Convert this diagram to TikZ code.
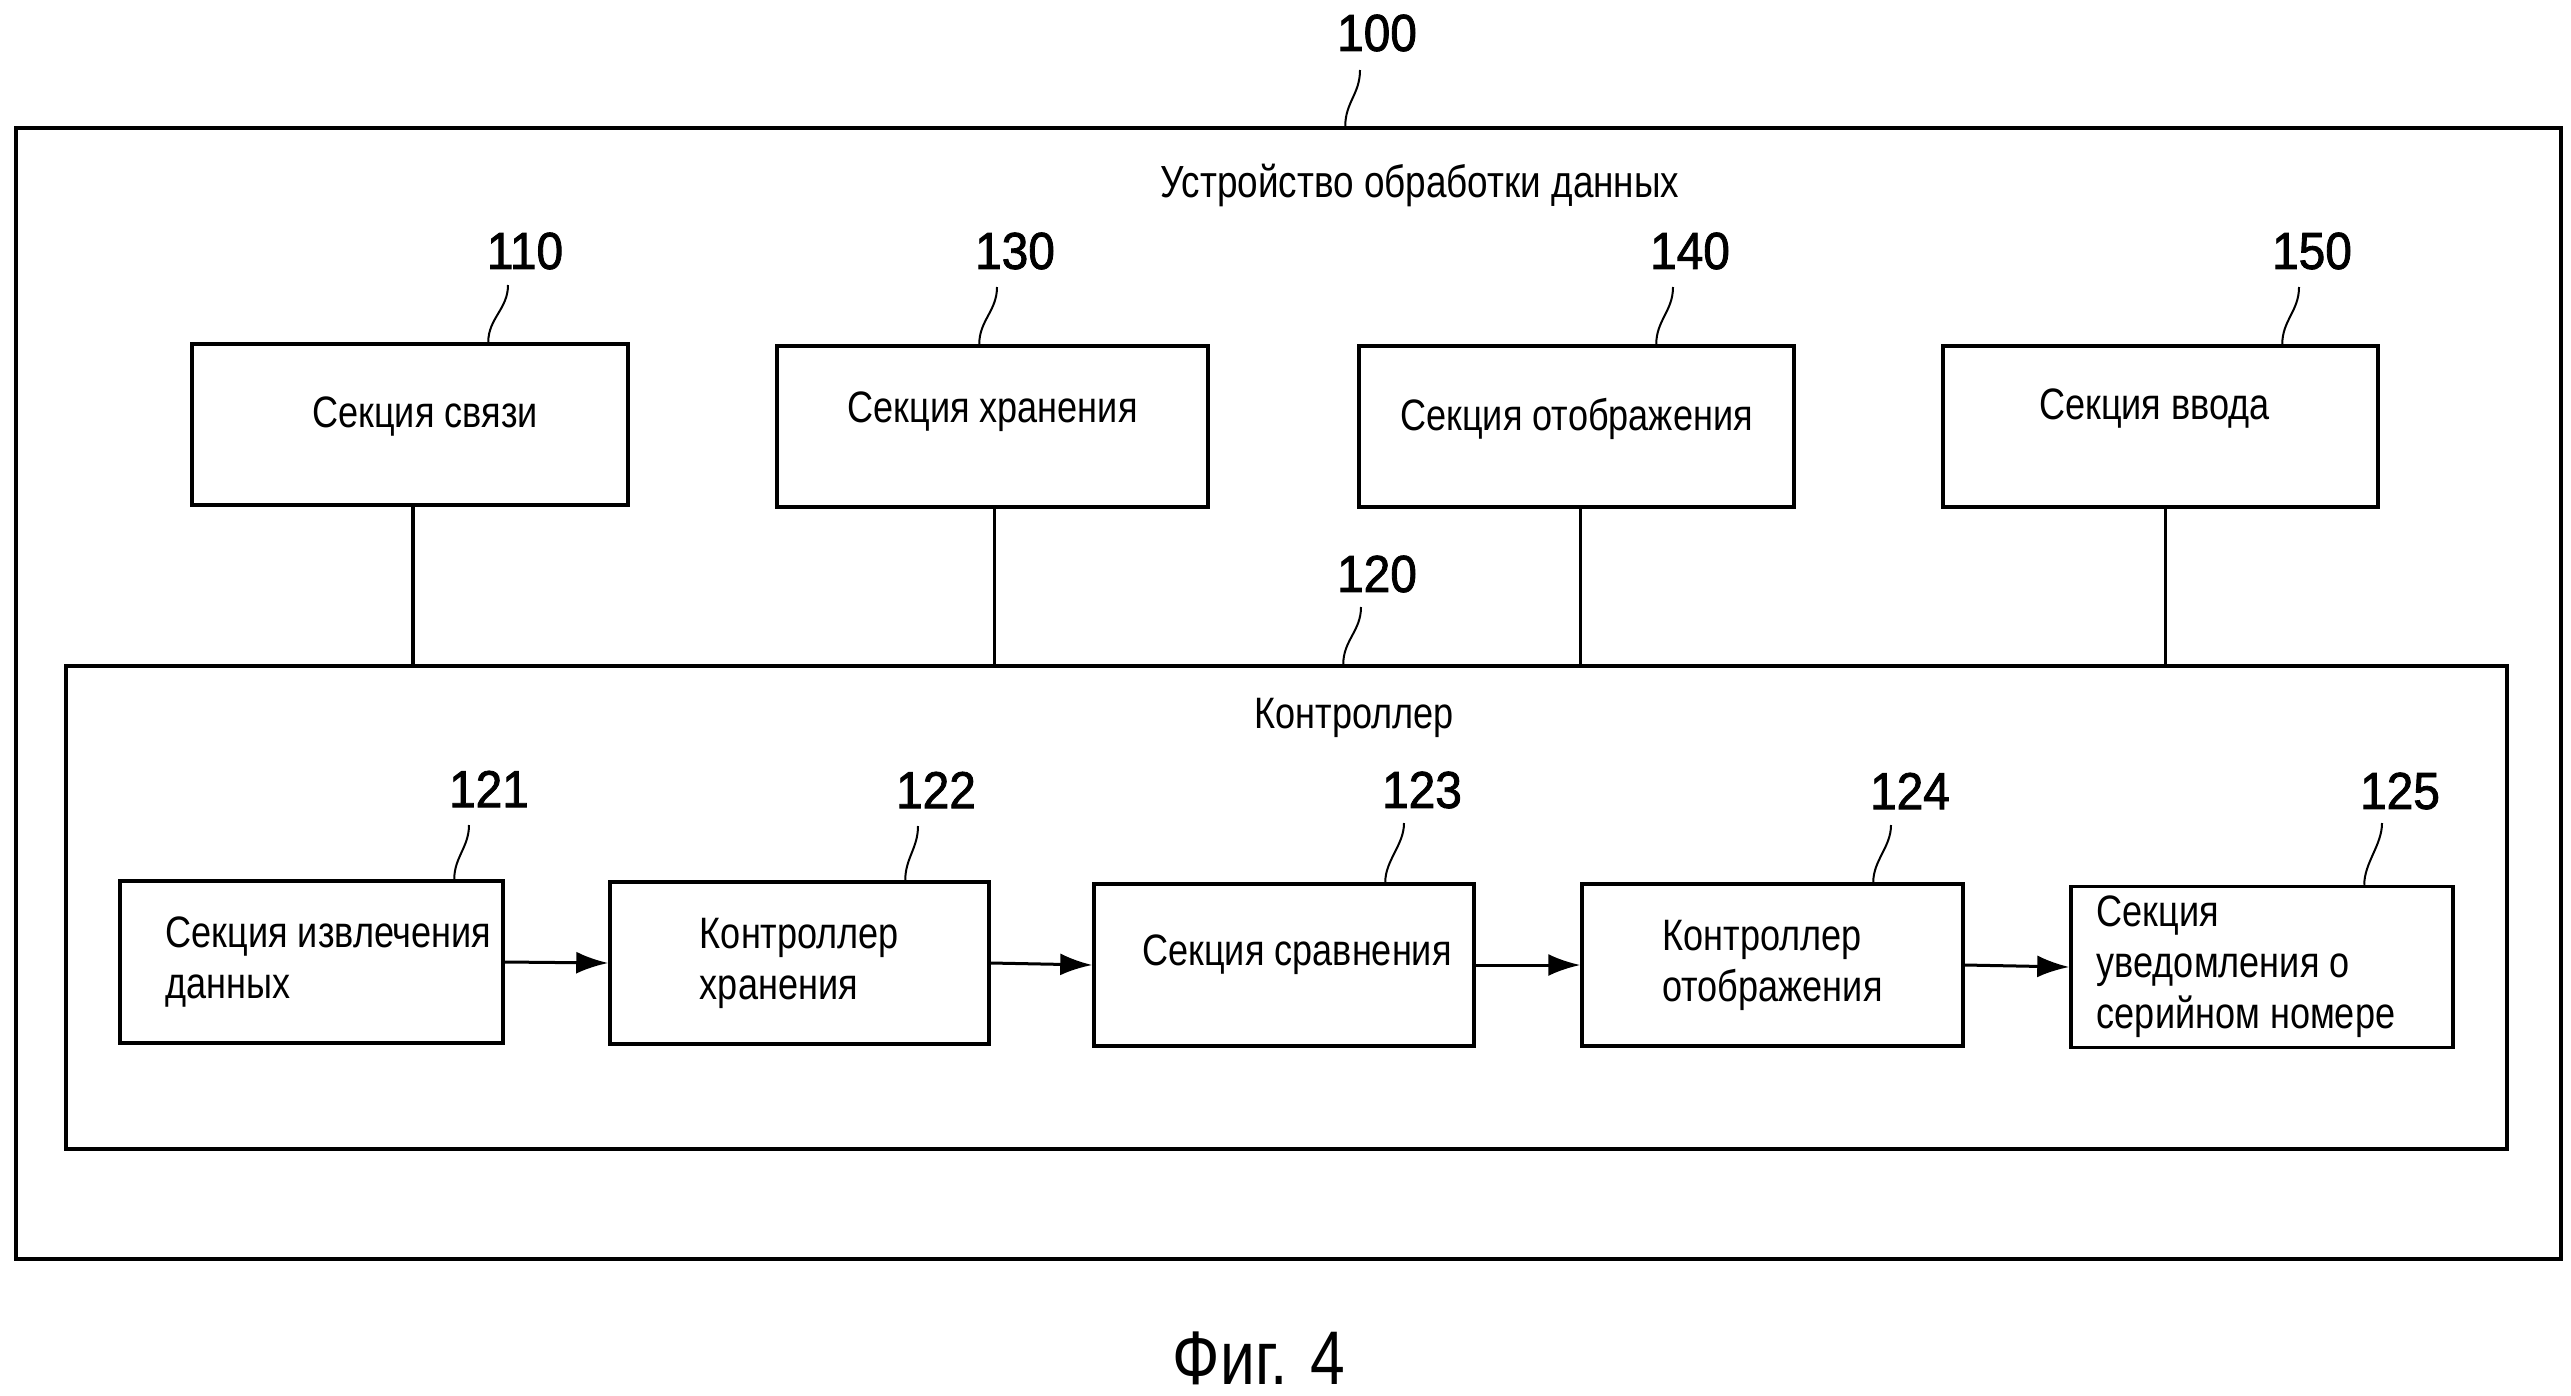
\documentclass[tikz,border=0pt]{standalone}
\usepackage{fontspec}
\setmainfont{Liberation Sans}[FakeStretch=0.82]
\newfontfamily\numfont{Liberation Sans}[FakeStretch=0.92,FakeBold=1.6]
\usetikzlibrary{arrows.meta}
\begin{document}
\begin{tikzpicture}[x=1pt,y=-1pt,
  box/.style={draw, line width=3.5pt, inner sep=0pt, font=\fontsize{44}{51}\selectfont, align=left},
  txt/.style={inner sep=0pt, font=\fontsize{44}{51}\selectfont},
  num/.style={inner sep=0pt, font=\numfont\fontsize{52}{56}\selectfont},
  lead/.style={line width=2pt},
  conn/.style={line width=3.5pt},
  arr/.style={line width=3pt, -{Latex[length=32pt,width=22pt]}}]
\useasboundingbox (0,0) rectangle (2571,1395);

% outer device
\node[draw, line width=3.5pt, minimum width=2545pt, minimum height=1131pt, inner sep=0pt] (dev) at (1288.5,693.5) {};
\node[txt, font=\fontsize{45}{51}\selectfont] (devtitle) at (1420,185) {Устройство обработки данных};

% top boxes
\node[box, minimum width=436pt, minimum height=161pt, text depth=25pt] (b110) at (410,424.5) {\hspace*{30pt}Секция связи};
\node[box, minimum width=431pt, minimum height=161pt, text depth=39pt] (b130) at (992.5,426.5) {Секция хранения};
\node[box, minimum width=435pt, minimum height=161pt, text depth=25pt] (b140) at (1576.5,426.5) {Секция отображения};
\node[box, minimum width=435pt, minimum height=161pt, text depth=45pt] (b150) at (2160.5,426.5) {Секция ввода\hspace*{12pt}};

% controller
\node[draw, line width=3.5pt, minimum width=2441pt, minimum height=483pt, inner sep=0pt] (ctrl) at (1286.5,907.5) {};
\node[txt] (ctrltitle) at (1354,718) {Контроллер};

% inner boxes
\node[box, minimum width=383pt, minimum height=162pt] (b121) at (311.5,962) {\hspace*{34pt}Секция извлечения\\\hspace*{34pt}данных};
\node[box, minimum width=379pt, minimum height=162pt] (b122) at (799.5,963) {Контроллер\\хранения};
\node[box, minimum width=380pt, minimum height=162pt, text depth=29pt] (b123) at (1284,965) {\hspace*{26pt}Секция сравнения};
\node[box, minimum width=381pt, minimum height=162pt] (b124) at (1772.5,965) {Контроллер\\отображения};
\node[box, minimum width=382pt, minimum height=161pt] (b125) at (2262,967) {Секция\\уведомления о\\серийном номере\hspace*{32pt}};

% bus connectors
\draw[conn] ([xshift=3pt]b110.south) -- ([xshift=3pt]b110.south |- ctrl.north);
\draw[conn] ([xshift=2pt]b130.south) -- ([xshift=2pt]b130.south |- ctrl.north);
\draw[conn] ([xshift=4pt]b140.south) -- ([xshift=4pt]b140.south |- ctrl.north);
\draw[conn] ([xshift=5pt]b150.south) -- ([xshift=5pt]b150.south |- ctrl.north);

% arrows
\draw[arr] (b121.east) -- (b122.west);
\draw[arr] (b122.east) -- (b123.west);
\draw[arr] (b123.east) -- (b124.west);
\draw[arr] (b124.east) -- (b125.west);

% reference numbers
\node[num] (n100) at (1377,33) {100};
\node[num] (n110) at (525,251) {110};
\node[num] (n130) at (1015,251) {130};
\node[num] (n140) at (1690,251) {140};
\node[num] (n150) at (2312,251) {150};
\node[num] (n120) at (1377,574) {120};
\node[num] (n121) at (489,789) {121};
\node[num] (n122) at (936,790) {122};
\node[num] (n123) at (1422,790) {123};
\node[num] (n124) at (1910,791) {124};
\node[num] (n125) at (2400,791) {125};

\coordinate (t100) at (1360,70);
\coordinate (t110) at (508,285);
\coordinate (t130) at (997,287);
\coordinate (t140) at (1673,287);
\coordinate (t150) at (2299,287);
\coordinate (t120) at (1361,607);
\coordinate (t121) at (469,825);
\coordinate (t122) at (918,826);
\coordinate (t123) at (1404,823);
\coordinate (t124) at (1891,825);
\coordinate (t125) at (2382,823);

\draw[lead] ([xshift=1331pt]dev.north west) .. controls +(0,-24) and +(0,24) .. (t100);
\draw[lead] ([xshift=298pt]b110.north west) .. controls +(0,-24) and +(0,24) .. (t110);
\draw[lead] ([xshift=204pt]b130.north west) .. controls +(0,-24) and +(0,24) .. (t130);
\draw[lead] ([xshift=299pt]b140.north west) .. controls +(0,-24) and +(0,24) .. (t140);
\draw[lead] ([xshift=341pt]b150.north west) .. controls +(0,-24) and +(0,24) .. (t150);
\draw[lead] ([xshift=1279pt]ctrl.north west) .. controls +(0,-24) and +(0,24) .. (t120);
\draw[lead] ([xshift=336pt]b121.north west) .. controls +(0,-22) and +(0,22) .. (t121);
\draw[lead] ([xshift=297pt]b122.north west) .. controls +(0,-22) and +(0,22) .. (t122);
\draw[lead] ([xshift=293pt]b123.north west) .. controls +(0,-22) and +(0,22) .. (t123);
\draw[lead] ([xshift=293pt]b124.north west) .. controls +(0,-22) and +(0,22) .. (t124);
\draw[lead] ([xshift=295pt]b125.north west) .. controls +(0,-22) and +(0,22) .. (t125);

% caption
\node[inner sep=0pt, font=\fontsize{76}{80}\selectfont] (fig) at (1259,1358) {Фиг. 4};
\end{tikzpicture}
\end{document}
